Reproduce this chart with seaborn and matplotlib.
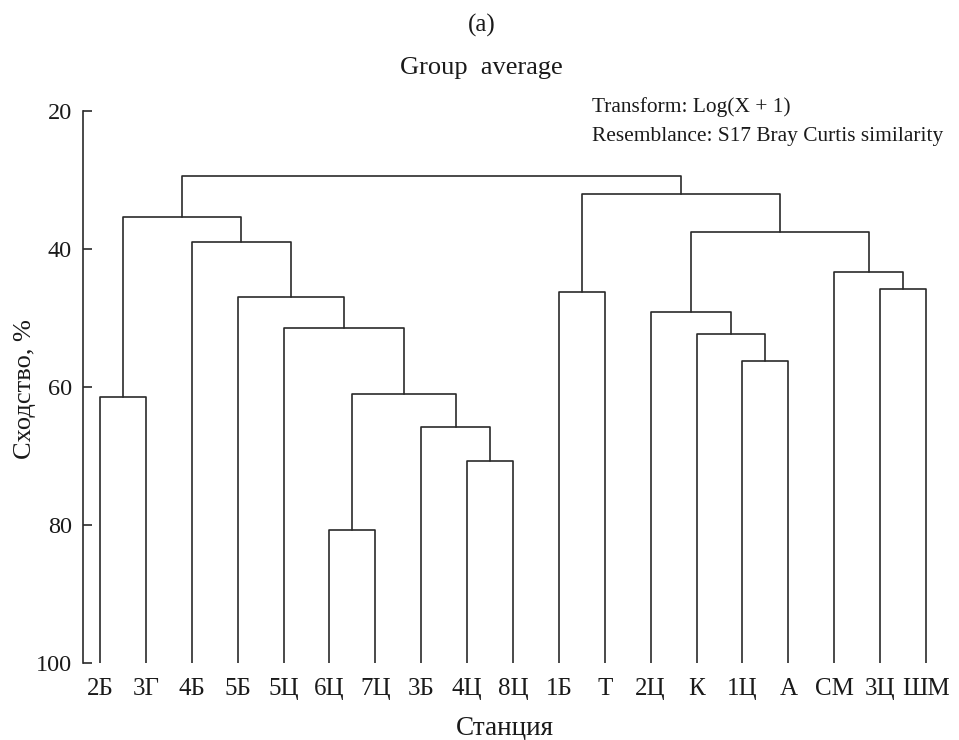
import matplotlib
matplotlib.use("Agg")
import matplotlib.pyplot as plt
import seaborn as sns
import pandas as pd

# ---- data -------------------------------------------------------------
leaf_labels = ["2Б", "3Г", "4Б", "5Б", "5Ц", "6Ц", "7Ц", "3Б", "4Ц", "8Ц",
               "1Б", "Т", "2Ц", "К", "1Ц", "А", "СМ", "3Ц", "ШМ"]
# merges: node ids 0..18 are leaves, new cluster ids start at 19
merge_left = [0, 5, 8, 7, 20, 4, 3, 2, 19, 10, 14, 13, 12, 17, 16, 31, 28, 27]
merge_right = [1, 6, 9, 21, 22, 23, 24, 25, 26, 11, 15, 29, 30, 18, 32, 33, 34, 35]
merge_similarity = [61.4, 80.7, 70.7, 65.8, 61.0, 51.5, 46.9, 39.0, 35.3,
                    46.2, 56.2, 52.3, 49.2, 45.8, 43.4, 37.6, 32.0, 29.4]
y_ticks = [20, 40, 60, 80, 100]

# ---- build dendrogram segments -----------------------------------------
n = len(leaf_labels)
pos = {i: float(i) for i in range(n)}
hgt = {i: 100.0 for i in range(n)}
rows = []
for k, (a, b, h) in enumerate(zip(merge_left, merge_right, merge_similarity)):
    node = n + k
    xs = [pos[a], pos[a], pos[b], pos[b]]
    ys = [hgt[a], h, h, hgt[b]]
    for j, (x, y) in enumerate(zip(xs, ys)):
        rows.append({"x": x, "y": y, "link": k, "order": j})
    pos[node] = (pos[a] + pos[b]) / 2
    hgt[node] = h
df = pd.DataFrame(rows)

# ---- style --------------------------------------------------------------
sns.set_theme(style="white")
plt.rcParams["font.family"] = ["Liberation Serif", "DejaVu Serif"]

fig = plt.figure(figsize=(9.59, 7.4), dpi=100)
W, H = 959, 740
left, right, top, bottom = 83, 943, 111, 663
ax = fig.add_axes([left / W, 1 - bottom / H, (right - left) / W, (bottom - top) / H])

sns.lineplot(data=df, x="x", y="y", units="link", estimator=None, sort=False,
             color="#2a2a2a", linewidth=1.2, ax=ax, legend=False)

ax.set_xlim(-0.37, 18.37)
ax.set_ylim(100, 20)
ax.set_yticks(y_ticks)
ax.set_yticklabels([str(v) for v in y_ticks])
ax.set_xticks(range(n))
ax.set_xticklabels(leaf_labels)
ax.set_xlabel("")
ax.set_ylabel("")

for s in ["top", "right", "bottom"]:
    ax.spines[s].set_visible(False)
ax.spines["left"].set_color("#2a2a2a")
ax.spines["left"].set_linewidth(1.2)

ax.tick_params(axis="y", direction="in", length=6.5, width=1.2, color="#2a2a2a",
               labelsize=17.5, pad=8, left=True, labelcolor="#1a1a1a")
ax.tick_params(axis="x", length=0, labelsize=18, pad=11, labelcolor="#1a1a1a")

# ---- texts --------------------------------------------------------------
tc = "#1a1a1a"
fig.text(482 / W, 1 - 32 / H, "(a)", ha="center", va="baseline", fontsize=18, color=tc)
fig.text(481 / W, 1 - 74 / H, "Group  average", ha="center", va="baseline", fontsize=19, color=tc)
fig.text(592 / W, 1 - 112 / H, "Transform: Log(X + 1)", ha="left", va="baseline", fontsize=15.4, color=tc)
fig.text(592 / W, 1 - 141 / H, "Resemblance: S17 Bray Curtis similarity", ha="left", va="baseline",
         fontsize=15.4, color=tc)
fig.text(505 / W, 1 - 728 / H, "Станция", ha="center", va="center", fontsize=19.5, color=tc)
fig.text(25 / W, 1 - 389 / H, "Сходство, %", ha="center", va="center", rotation=90,
         fontsize=19, color=tc)

fig.savefig("out.png", dpi=100)
